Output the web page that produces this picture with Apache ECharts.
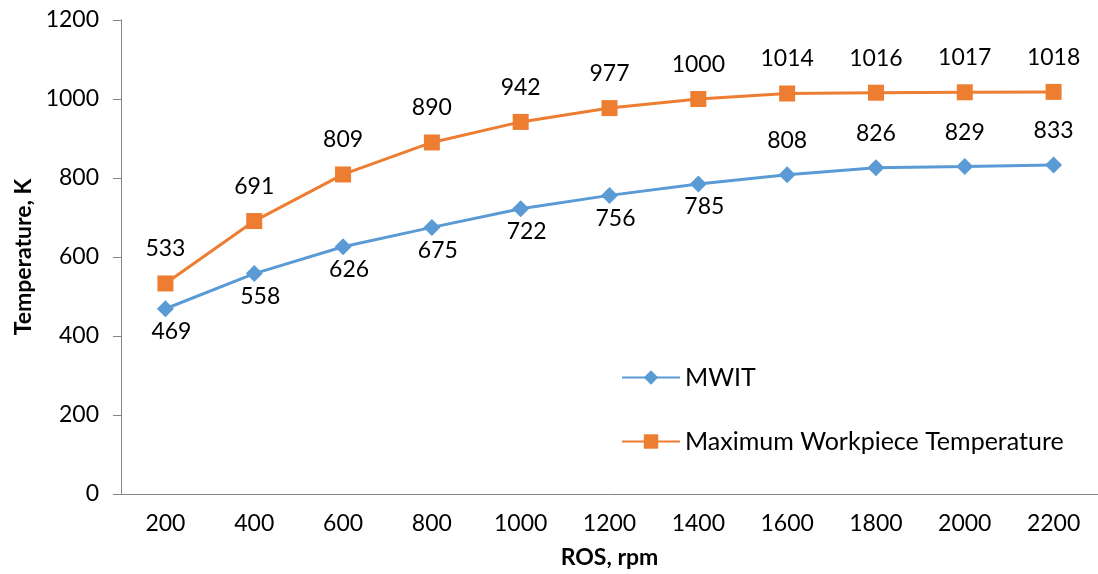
<!DOCTYPE html>
<html><head><meta charset="utf-8">
<script src="https://cdn.jsdelivr.net/npm/echarts@6/dist/echarts.min.js"></script>
<style>html,body{margin:0;padding:0;background:#fff}#c{width:1098px;height:574px}</style>
</head><body><div id="c"></div>
<script>
const categories = ['200','400','600','800','1000','1200','1400','1600','1800','2000','2200'];
const mwit = [469,558,626,675,722,756,785,808,826,829,833];
const maxTemp = [533,691,809,890,942,977,1000,1014,1016,1017,1018];
const mwitLabelAbove = [false,false,false,false,false,false,false,true,true,true,true];

const font = 'Lato';
const chart = echarts.init(document.getElementById('c'));
chart.setOption({
  backgroundColor:'#fff',
  animation:false,
  grid:{left:121,right:-6,top:20,bottom:77,containLabel:false},
  legend:{
    orient:'vertical', left:616, top:360, itemGap:39, itemWidth:58, itemHeight:18,
    textStyle:{fontFamily:font,fontSize:25,color:'#000'},
    data:['MWIT','Maximum Workpiece Temperature']
  },
  xAxis:{
    type:'category', data:categories, boundaryGap:true,
    name:'ROS, rpm', nameLocation:'middle', nameGap:52,
    nameTextStyle:{fontFamily:font,fontSize:23,fontWeight:'bold',color:'#000'},
    axisLine:{lineStyle:{color:'#868686',width:1}},
    axisTick:{alignWithLabel:true,length:7,lineStyle:{color:'#868686'}},
    axisLabel:{fontFamily:font,fontSize:23,color:'#000',margin:18}
  },
  yAxis:{
    type:'value', min:0, max:1200, interval:200,
    name:'Temperature, K', nameLocation:'middle', nameGap:84,
    nameTextStyle:{fontFamily:font,fontSize:23,fontWeight:'bold',color:'#000'},
    axisLine:{show:true,lineStyle:{color:'#868686',width:1}},
    axisTick:{show:true,length:8,lineStyle:{color:'#868686'}},
    splitLine:{show:false},
    axisLabel:{fontFamily:font,fontSize:23,color:'#000',margin:22,formatter:v=>String(v)}
  },
  series:[
    {
      name:'MWIT', type:'line', symbol:'diamond', symbolSize:17,
      lineStyle:{color:'#5B9BD5',width:3}, itemStyle:{color:'#5B9BD5'},
      data: mwit.map((v,i)=>({value:v,label:{
        position: mwitLabelAbove[i]?'top':'bottom',
        distance: mwitLabelAbove[i]?14:3,
        offset: mwitLabelAbove[i]?[0,0]:[6,0]
      }})),
      label:{show:true,fontFamily:font,fontSize:23,color:'#000'}
    },
    {
      name:'Maximum Workpiece Temperature', type:'line', symbol:'rect', symbolSize:16,
      lineStyle:{color:'#ED7D31',width:3}, itemStyle:{color:'#ED7D31'},
      data:maxTemp,
      label:{show:true,position:'top',distance:15,fontFamily:font,fontSize:23,color:'#000'}
    }
  ]
});
</script></body></html>
